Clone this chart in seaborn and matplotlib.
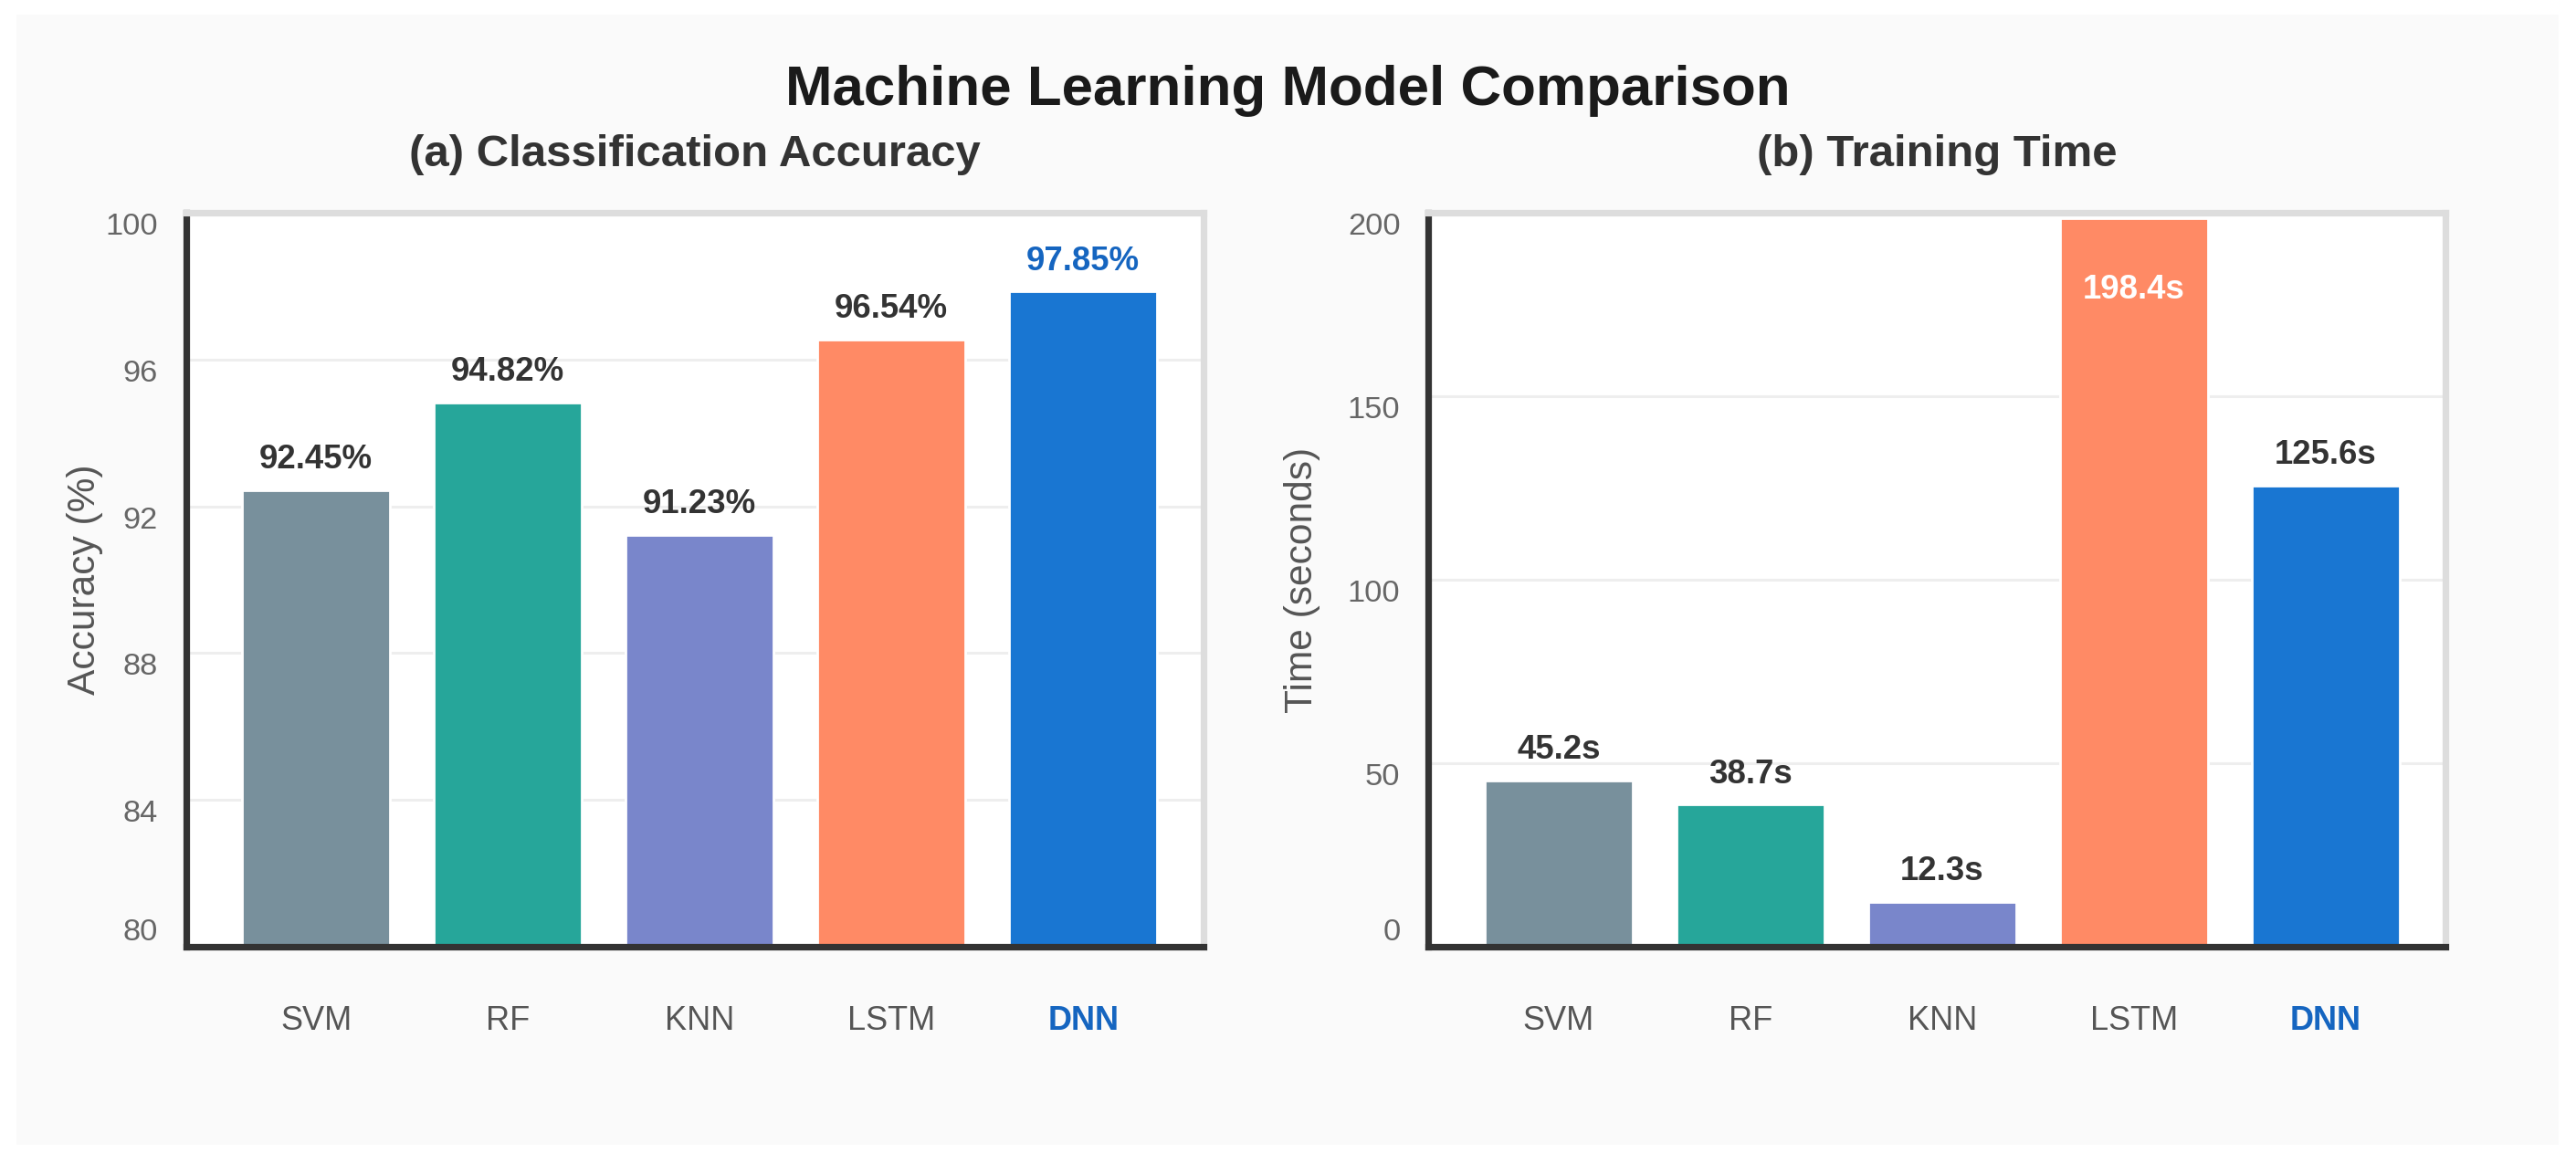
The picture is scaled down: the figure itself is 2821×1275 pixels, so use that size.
import numpy as np
import pandas as pd
import seaborn as sns
import matplotlib.pyplot as plt
from matplotlib.patches import Rectangle

sns.set_theme(style="white")
plt.rcParams['font.family'] = ['Liberation Sans', 'DejaVu Sans']

# data
models = ['SVM', 'RF', 'KNN', 'LSTM', 'DNN']
accuracy = [92.45, 94.82, 91.23, 96.54, 97.85]
train_time = [45.2, 38.7, 12.3, 198.4, 125.6]
acc_ticks = [80, 84, 88, 92, 96, 100]
time_ticks = [0, 50, 100, 150, 200]

bar_colors = ['#78909c', '#26a69a', '#7986cb', '#ff8a65', '#1976d2']
best_color = '#1565c0'

df = pd.DataFrame({'model': models, 'accuracy': accuracy, 'time': train_time})

W, H, dpi = 2821, 1275, 200
fig = plt.figure(figsize=(W / dpi, H / dpi), dpi=dpi, facecolor='white')
# light grey card behind everything
fig.add_artist(Rectangle((18 / W, 1 - 1254 / H), (2802 - 18) / W, (1254 - 16) / H,
                         transform=fig.transFigure, facecolor='#fafafa',
                         edgecolor='none', zorder=-10))

ax1 = fig.add_axes([203.5 / W, 1 - 1037 / H, 1114 / W, 804 / H])
ax2 = fig.add_axes([1564 / W, 1 - 1037 / H, 1114 / W, 804 / H])


def style_axes(ax, ticks, ylim, ylabel, title, xlabel_x):
    ax.set_facecolor('white')
    ax.set_xlim(-0.68, 4.625)
    ax.set_ylim(*ylim)
    ax.set_yticks(ticks)
    ax.set_yticklabels([str(t) for t in ticks])
    ax.yaxis.grid(True, color='#eeeeee', linewidth=1.1, zorder=0)
    ax.set_axisbelow(True)
    for side in ['left', 'bottom']:
        ax.spines[side].set_color('#333333')
        ax.spines[side].set_linewidth(2.6)
    for side in ['top', 'right']:
        ax.spines[side].set_color('#dddddd')
        ax.spines[side].set_linewidth(2.6)
        ax.spines[side].set_visible(True)
    ax.tick_params(axis='y', length=0, pad=11, labelsize=12.4, labelcolor='#666666')
    ax.tick_params(axis='x', length=0, pad=23, labelsize=13, labelcolor='#555555')
    labs = ax.get_yticklabels()
    for lab in labs:
        lab.set_verticalalignment('top')
    labs[0].set_verticalalignment('bottom')
    xl = ax.get_xticklabels()
    xl[-1].set_color(best_color)
    xl[-1].set_fontweight('bold')
    ax.set_xlabel('')
    ax.set_ylabel(ylabel, fontsize=15.3, color='#555555')
    ax.yaxis.set_label_coords(xlabel_x, 0.5)
    ax.set_title(title, fontsize=17.7, fontweight='bold', color='#333333', pad=18.4)


sns.barplot(data=df, x='model', y='accuracy', hue='model', palette=bar_colors,
            saturation=1, width=0.771, legend=False, ax=ax1, zorder=2)
sns.barplot(data=df, x='model', y='time', hue='model', palette=bar_colors,
            saturation=1, width=0.771, legend=False, ax=ax2, zorder=2)

style_axes(ax1, acc_ticks, (80, 100), 'Accuracy (%)', '(a) Classification Accuracy', -0.081)
style_axes(ax2, time_ticks, (0, 200), 'Time (seconds)', '(b) Training Time', -0.106)

# value labels
for i, v in enumerate(accuracy):
    c = best_color if i == len(accuracy) - 1 else '#333333'
    ax1.annotate(f'{v:.2f}%', (i, v), xytext=(0, 8.6), textcoords='offset points',
                 ha='center', va='baseline', fontsize=13.2, fontweight='bold', color=c)

for i, v in enumerate(train_time):
    if v > 190:
        ax2.annotate(f'{v:.1f}s', (i, v), xytext=(0, -31.5), textcoords='offset points',
                     ha='center', va='baseline', fontsize=13.2, fontweight='bold',
                     color='white')
    else:
        ax2.annotate(f'{v:.1f}s', (i, v), xytext=(0, 8.6), textcoords='offset points',
                     ha='center', va='baseline', fontsize=13.2, fontweight='bold',
                     color='#333333')

fig.text(0.5, 1 - 115 / H, 'Machine Learning Model Comparison', ha='center',
         va='baseline', fontsize=22.3, fontweight='bold', color='#1a1a1a')

fig.savefig('out.png', dpi=dpi, facecolor='white')
